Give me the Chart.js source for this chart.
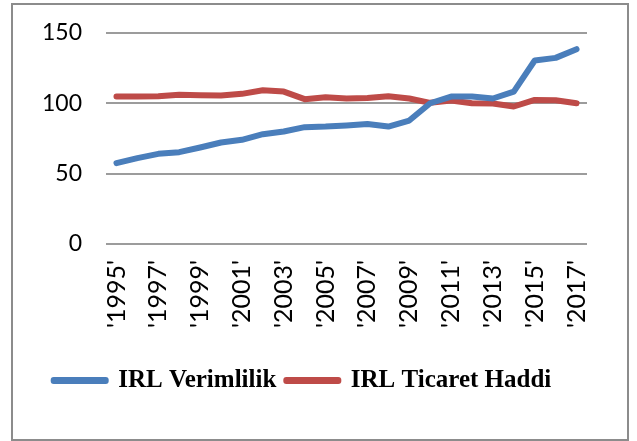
<!DOCTYPE html>
<html>
<head>
<meta charset="utf-8">
<script src="https://cdn.jsdelivr.net/npm/chart.js@4"></script>
<style>
    html, body { margin: 0; padding: 0; background: #ffffff; }
    .wrap { position: relative; width: 637px; height: 441px; }
    .frame {
        position: absolute; left: 11px; top: 3px; width: 614px; height: 434px;
        border: 2px solid #8c8c8c; pointer-events: none;
    }
</style>
</head>
<body>
<div class="wrap">
    <canvas id="chart" width="637" height="441"></canvas>
    <div class="frame"></div>
</div>
<script>
// 年（カテゴリ）
const years = ["'1995'", "'1996'", "'1997'", "'1998'", "'1999'", "'2000'", "'2001'", "'2002'",
    "'2003'", "'2004'", "'2005'", "'2006'", "'2007'", "'2008'", "'2009'", "'2010'",
    "'2011'", "'2012'", "'2013'", "'2014'", "'2015'", "'2016'", "'2017'"];

// IRL Verimlilik
const verimlilik = [57.4, 61.0, 64.0, 65.2, 68.5, 72.1, 74.0, 78.0, 79.9, 83.0, 83.4, 84.2,
    85.3, 83.4, 87.7, 100.0, 104.8, 104.8, 103.4, 108.3, 130.4, 132.3, 138.5];

// IRL Ticaret Haddi
const ticaretHaddi = [104.8, 104.8, 105.0, 106.0, 105.7, 105.5, 106.7, 109.3, 108.3, 102.9,
    104.3, 103.4, 103.8, 105.0, 103.4, 100.3, 101.9, 100.0, 99.8, 97.7, 102.4, 102.2, 100.0];

// y 軸の目盛り
const yTicks = [0, 50, 100, 150];

const blue = "#4a7ebb";
const red = "#be4b48";

function lineSet(label, data, color) {
    return {
        label: label,
        data: data,
        borderColor: color,
        backgroundColor: color,
        borderWidth: 6,
        borderCapStyle: "round",
        borderJoinStyle: "round",
        pointRadius: 0,
        tension: 0,
        fill: false
    };
}

new Chart(document.getElementById("chart").getContext("2d"), {
    type: "line",
    data: {
        labels: years,
        datasets: [
            lineSet("IRL Verimlilik", verimlilik, blue),
            lineSet("IRL Ticaret Haddi", ticaretHaddi, red)
        ]
    },
    options: {
        responsive: false,
        animation: false,
        layout: { padding: { left: 18, right: 50, top: 33, bottom: 38 } },
        plugins: {
            tooltip: { enabled: false },
            legend: {
                position: "bottom",
                labels: {
                    color: "#000000",
                    font: { family: "'Liberation Serif', serif", size: 25, weight: "bold" },
                    boxWidth: 52,
                    boxHeight: 1,
                    padding: 10
                }
            }
        },
        scales: {
            x: {
                offset: true,
                grid: { display: false, drawTicks: false },
                border: { display: false },
                afterFit: function (scale) {
                    scale.height += 14; // 凡例との間隔
                },
                ticks: {
                    autoSkip: false,
                    minRotation: 90,
                    maxRotation: 90,
                    padding: 16,
                    color: "#000000",
                    font: { family: "Lato", size: 25 },
                    callback: function (value, index) {
                        return index % 2 === 0 ? years[index] : "";
                    }
                }
            },
            y: {
                min: yTicks[0],
                max: yTicks[yTicks.length - 1],
                afterBuildTicks: function (axis) {
                    axis.ticks = yTicks.map(v => ({ value: v }));
                },
                afterFit: function (scale) {
                    scale.paddingTop = 0;
                    scale.paddingBottom = 0;
                },
                grid: { color: "#9c9c9c", lineWidth: 2, drawTicks: false },
                border: { display: false },
                ticks: {
                    padding: 24,
                    color: "#000000",
                    font: { family: "Lato", size: 23 }
                }
            }
        }
    }
});
</script>
</body>
</html>
